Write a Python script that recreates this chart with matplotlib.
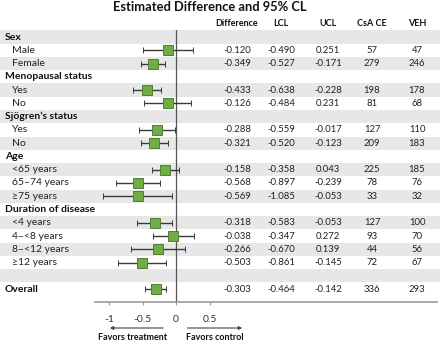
import numpy as np
import matplotlib.pyplot as plt
from matplotlib import transforms

plt.rcParams['font.family'] = ['Lato', 'DejaVu Sans']

# Rows of the table (top to bottom); header rows have no values
labels = ['Sex', 'Male', 'Female',
          'Menopausal status', 'Yes', 'No',
          'Sjögren’s status', 'Yes', 'No',
          'Age', '<65 years', '65–74 years', '≥75 years',
          'Duration of disease', '<4 years', '4–<8 years', '8–<12 years', '≥12 years',
          '', 'Overall']
is_header = [True, False, False,
             True, False, False,
             True, False, False,
             True, False, False, False,
             True, False, False, False, False,
             False, True]

diff = [None, -0.120, -0.349, None, -0.433, -0.126, None, -0.288, -0.321,
        None, -0.158, -0.568, -0.569, None, -0.318, -0.038, -0.266, -0.503,
        None, -0.303]
lcl = [None, -0.490, -0.527, None, -0.638, -0.484, None, -0.559, -0.520,
       None, -0.358, -0.897, -1.085, None, -0.583, -0.347, -0.670, -0.861,
       None, -0.464]
ucl = [None, 0.251, -0.171, None, -0.228, 0.231, None, -0.017, -0.123,
       None, 0.043, -0.239, -0.053, None, -0.053, 0.272, 0.139, -0.145,
       None, -0.142]
csa = [None, 57, 279, None, 198, 81, None, 127, 209,
       None, 225, 78, 33, None, 127, 93, 44, 72, None, 336]
veh = [None, 47, 246, None, 178, 68, None, 110, 183,
       None, 185, 76, 32, None, 100, 70, 56, 67, None, 293]

col_names = ['Difference', 'LCL', 'UCL', 'CsA CE', 'VEH']
col_x = [237, 281, 328, 372, 417]  # pixel centres of columns

W, H = 440, 342
row_h = 13.27
top_row = 37.0
fig = plt.figure(figsize=(W / 100, H / 100), dpi=100)
ax_top = top_row - row_h / 2
ax_bot = 302
ax = fig.add_axes([0, 1 - ax_bot / H, 1, (ax_bot - ax_top) / H])

px_per_unit = 67.0
zero_px = 176.0
ax.set_xlim(-zero_px / px_per_unit, (W - zero_px) / px_per_unit)
ax.set_ylim((ax_bot - top_row) / row_h, -0.5)

n = len(labels)
rows = np.arange(n)

# stripes
for i in rows:
    if i % 2 == 0:
        ax.axhspan(i - 0.5, i + 0.5, color='#e7e7e7', lw=0, zorder=0)

# zero line
ax.plot([0, 0], [-0.5, (ax_bot - top_row) / row_h], color='#555555', lw=0.9, zorder=1)

# estimates with CI
for i in rows:
    if diff[i] is None:
        continue
    ax.errorbar(diff[i], i, xerr=[[diff[i] - lcl[i]], [ucl[i] - diff[i]]],
                fmt='s', ms=6.5, mfc='#70ad47', mec='#507e32', mew=0.7,
                ecolor='#3a3a3a', elinewidth=1.0, capsize=2.2, capthick=1.0, zorder=3)

# axes styling
for s in ['top', 'right', 'left']:
    ax.spines[s].set_visible(False)
ax.spines['bottom'].set_color('#999999')
ax.spines['bottom'].set_linewidth(1.2)
ax.spines['bottom'].set_bounds((95 - zero_px) / px_per_unit, (437 - zero_px) / px_per_unit)
ax.set_yticks([])
ax.set_xticks([-1, -0.5, 0, 0.5])
ax.set_xticklabels(['-1', '-0.5', '0', '0.5'])
ax.tick_params(axis='x', length=2.5, width=0.8, color='#999999', pad=7,
               labelsize=7.5, labelcolor='#333333')

# text in table
tx = transforms.blended_transform_factory(fig.transFigure, ax.transData)
for i in rows:
    if is_header[i]:
        ax.text(5 / W, i, labels[i], transform=tx, ha='left', va='center',
                fontsize=7.5, fontweight='bold', color='#111111')
    else:
        ax.text(12 / W, i, labels[i], transform=tx, ha='left', va='center',
                fontsize=7.5, color='#222222')
    if diff[i] is not None:
        vals = [f'{diff[i]:.3f}', f'{lcl[i]:.3f}', f'{ucl[i]:.3f}', str(csa[i]), str(veh[i])]
        for x, v in zip(col_x, vals):
            ax.text(x / W, i, v, transform=tx, ha='center', va='center',
                    fontsize=6.8, color='#222222')

header_y = (24 - top_row) / row_h
for x, name in zip(col_x, col_names):
    ax.text(x / W, header_y, name, transform=tx, ha='center', va='center',
            fontsize=6.5, fontweight='bold', color='#111111')

fig.text(210 / W, 1 - 7 / H, 'Estimated Difference and 95% CL', ha='center',
         va='center', fontsize=9.3, fontweight='bold', color='#111111')

# favour arrows
arrow_y = 1 - 328 / H
ta = transforms.blended_transform_factory(ax.transData, fig.transFigure)
ax.annotate('', xy=(-1.03, arrow_y), xytext=(-0.15, arrow_y), xycoords=ta, textcoords=ta,
            arrowprops=dict(arrowstyle='-|>', color='#444444', lw=0.8, mutation_scale=5))
ax.annotate('', xy=(1.03, arrow_y), xytext=(0.13, arrow_y), xycoords=ta, textcoords=ta,
            arrowprops=dict(arrowstyle='-|>', color='#444444', lw=0.8, mutation_scale=5))
ax.text(-0.65, 1 - 338 / H, 'Favors treatment', transform=ta, ha='center', va='center',
        fontsize=6.5, fontweight='bold', color='#111111')
ax.text(0.58, 1 - 338 / H, 'Favors control', transform=ta, ha='center', va='center',
        fontsize=6.5, fontweight='bold', color='#111111')

fig.savefig('out.png', dpi=100)
